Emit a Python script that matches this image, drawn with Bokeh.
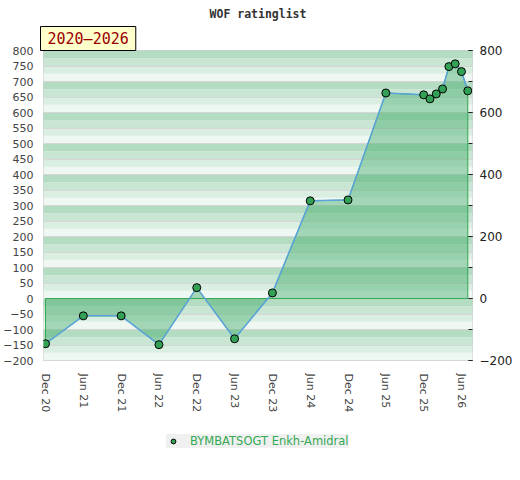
from bokeh.plotting import figure
from bokeh.layouts import column
from bokeh.models import (Range1d, LinearAxis, SingleIntervalTicker, FixedTicker,
                          Title, Legend, LegendItem)
from bokeh.embed import file_html
from bokeh.resources import INLINE

title_text = "WOF ratinglist"
period_text = "2020\u20132026"
player = "BYMBATSOGT Enkh-Amidral"

months = ["2020-12", "2021-06", "2021-12", "2022-06", "2022-12", "2023-06",
          "2023-12", "2024-06", "2024-12", "2025-06", "2025-12", "2026-01",
          "2026-02", "2026-03", "2026-04", "2026-05", "2026-06", "2026-07"]
ratings = [-146, -56, -56, -149, 35, -130, 18, 315, 318, 663, 657, 644,
           660, 676, 748, 757, 732, 670]

tick_months = ["2020-12", "2021-06", "2021-12", "2022-06", "2022-12", "2023-06",
               "2023-12", "2024-06", "2024-12", "2025-06", "2025-12", "2026-06"]
tick_labels = ["Dec 20", "Jun 21", "Dec 21", "Jun 22", "Dec 22", "Jun 23",
               "Dec 23", "Jun 24", "Dec 24", "Jun 25", "Dec 25", "Jun 26"]


def month_index(s):
    y, m = map(int, s.split("-"))
    return (y - 2020) * 12 + (m - 12)


x = [month_index(m) for m in months]
tick_x = [month_index(m) for m in tick_months]

Y0, Y1 = -200, 800
GREEN = "#34a853"
MARK = dict(size=8, fill_color="#33a155", line_color="black", line_width=1)

p = figure(frame_width=429, frame_height=310, x_range=Range1d(-0.32, 67.75),
           y_range=Range1d(Y0, Y1), output_backend="svg", toolbar_location=None,
           min_border_left=43, min_border_right=37, min_border_top=42, min_border_bottom=68)
p.background_fill_color = "white"
p.border_fill_color = "white"
p.outline_line_color = "#cccccc"
p.outline_line_width = 1

# background bands
band_colors = ["#eef7f1", "#daeee2", "#c8e6d3", "#b3dcc3"]
lefts, rights, bottoms, tops, cols = [], [], [], [], []
for base in range(Y0, Y1, 100):
    for i, c in enumerate(band_colors):
        lefts.append(-10); rights.append(80)
        bottoms.append(base + 25 * i); tops.append(base + 25 * (i + 1))
        cols.append(c)
bands = p.quad(left=lefts, right=rights, bottom=bottoms, top=tops, fill_color=cols,
               line_color=None)
bands.level = "image"

p.xgrid.visible = False
p.ygrid.ticker = SingleIntervalTicker(interval=50)
p.ygrid.grid_line_color = "#d6d6d6"
p.ygrid.grid_line_width = 1

# left axis
ya = p.yaxis[0]
ya.ticker = SingleIntervalTicker(interval=50, num_minor_ticks=0)
ya.axis_line_color = None
ya.major_tick_line_color = None
ya.minor_tick_line_color = None
ya.major_tick_out = 0
ya.major_label_text_font = "DejaVu Sans"
ya.major_label_text_font_size = "11px"
ya.major_label_text_color = "#444444"
ya.major_label_standoff = 10

# right axis
ra = LinearAxis(ticker=SingleIntervalTicker(interval=200, num_minor_ticks=2),
                major_tick_in=4, major_tick_out=0, minor_tick_in=4, minor_tick_out=0,
                axis_line_color=None, major_tick_line_color="#222222",
                minor_tick_line_color="#222222",
                major_label_text_font="DejaVu Sans", major_label_text_font_size="12px",
                major_label_text_color="#222222", major_label_standoff=7)
p.add_layout(ra, "right")

# x axis
xa = p.xaxis[0]
xa.ticker = FixedTicker(ticks=tick_x)
xa.major_label_overrides = {t: l for t, l in zip(tick_x, tick_labels)}
xa.major_label_orientation = "vertical"
xa.axis_line_color = None
xa.major_tick_line_color = None
xa.minor_tick_line_color = None
xa.major_tick_out = 0
xa.major_label_text_font = "DejaVu Sans"
xa.major_label_text_font_size = "11px"
xa.major_label_text_color = "#444444"
xa.major_label_standoff = 13

# area
px = [x[0]] + x + [x[-1]]
py = [0] + ratings + [0]
p.patch(px, py, fill_color="#3caa64", fill_alpha=0.42, line_color=GREEN, line_width=1)
p.line(x, ratings, line_color="#5ba3dc", line_width=1.5)
p.scatter(x, ratings, **MARK)

p.add_layout(Title(text=period_text, align="left", standoff=0, offset=-3,
                   text_font="DejaVu Sans Mono", text_font_size="15px",
                   text_font_style="normal", text_color="#990000",
                   background_fill_color="#ffffcc", border_line_color="black",
                   border_line_width=1, padding=(7, 3)), "above")
p.add_layout(Title(text=title_text, align="center", standoff=8,
                   text_font="DejaVu Sans Mono", text_font_style="bold",
                   text_font_size="11.5px", text_color="#333333"), "above")

# legend strip (key glyph kept outside its visible range)
lg = figure(width=504, height=44, x_range=Range1d(0, 1), y_range=Range1d(0, 1),
            x_axis_location=None, y_axis_location=None,
            output_backend="svg", toolbar_location=None, min_border=0)
lg.grid.visible = False
lg.outline_line_color = None
lg.background_fill_color = "white"
lg.border_fill_color = "white"
key = lg.scatter(x=[5], y=[5], **MARK)
legend = Legend(items=[LegendItem(label=player, renderers=[key])], location=(123, 24),
                orientation="horizontal", background_fill_color="#f0f0f0",
                background_fill_alpha=1, border_line_color=None,
                label_text_color=GREEN, label_text_font="DejaVu Sans",
                label_text_font_size="11.5px", padding=4, glyph_height=12, glyph_width=14,
                label_height=12, label_standoff=10, margin=0)
lg.add_layout(legend)

open("out.html", "w").write(file_html(column(p, lg, spacing=0), INLINE))
